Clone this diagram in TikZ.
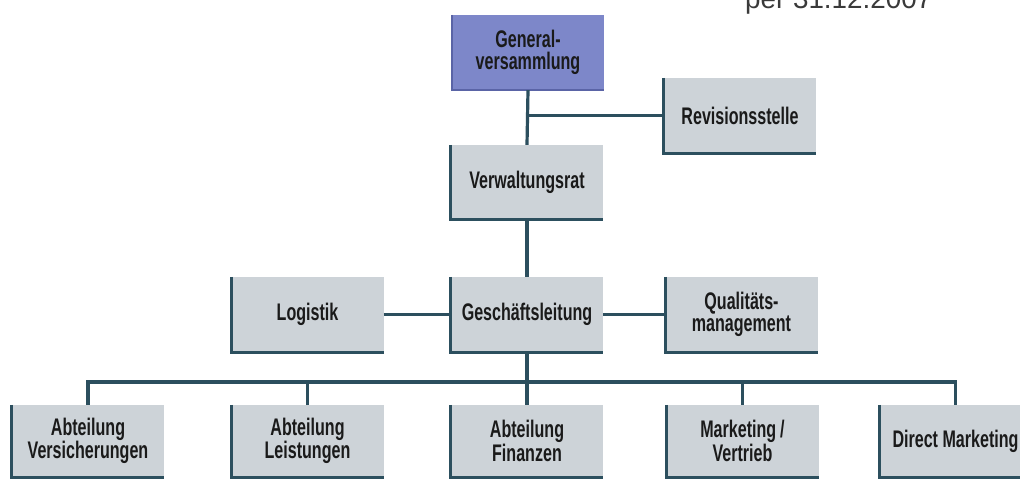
\documentclass[tikz,border=0pt]{standalone}
\usepackage{fontspec}
\setmainfont{Liberation Sans}
\newfontfamily\boxfont[FakeStretch=0.67]{Liberation Sans}
\definecolor{boxfill}{HTML}{CDD3D8}
\definecolor{gvfill}{HTML}{7D87C9}
\definecolor{gvedge}{HTML}{5A64A6}
\definecolor{linec}{HTML}{2C4F5E}
\definecolor{txt}{HTML}{1A1A1A}
\definecolor{titlec}{HTML}{3A3A3A}
\tikzset{
  unit/.style={rectangle, fill=boxfill, minimum width=152pt, minimum height=75pt,
    inner sep=0pt, align=center, text=txt,
    font=\boxfont\bfseries\fontsize{24}{22}\selectfont},
  topunit/.style={unit, fill=gvfill},
  edgeline/.style={draw=linec, line width=3pt},
  gvline/.style={draw=gvedge, line width=2.5pt},
  conn/.style={draw=linec, line width=3.2pt},
}
\begin{document}
\begin{tikzpicture}[x=1pt,y=-1pt]
\useasboundingbox (0,0) rectangle (1020,480);
\fill[white] (0,0) rectangle (1020,480);

\node[anchor=base west, text=titlec, inner sep=0pt, font=\fontsize{27.8}{30}\selectfont] (title) at (745,8) {per 31.12.2007};

\node[topunit] (gv) at (528,52.5) {General-\\versammlung};
\node[unit] (rev) at (740,115.5) {Revisionsstelle};
\node[unit, minimum height=74pt] (vr) at (527,182) {Verwaltungsrat};
\node[unit] (log) at (307.5,314.5) {Logistik};
\node[unit] (gl) at (527,314.5) {Geschäftsleitung};
\node[unit] (qm) at (741.5,314.5) {Qualitäts-\\management};

\node[unit, minimum height=72pt] (av) at (88,441) {Abteilung\\Versicherungen};
\node[unit, minimum height=72pt] (al) at (307.5,441) {Abteilung\\Leistungen};
\node[unit, minimum height=72pt] (af) at (527,441) {Abteilung\\Finanzen};
\node[unit, minimum height=72pt] (mv) at (742.5,441) {Marketing\,/\\Vertrieb};
\node[unit, minimum height=72pt] (dm) at (955.5,441) {Direct Marketing};

% box edges (left and bottom)
\draw[gvline] (gv.north west) -- (gv.south west) -- (gv.south east);
\foreach \n in {rev,vr,log,gl,qm,av,al,af,mv,dm}
  \draw[edgeline] (\n.north west) -- (\n.south west) -- (\n.south east);

% connectors
\coordinate (bus) at (527,382);
\draw[conn] (gv.south) -- (vr.north);
\draw[conn] (gv.south |- rev.west) -- (rev.west);
\draw[conn] (vr.south) -- (gl.north);
\draw[conn] (log.east) -- (gl.west);
\draw[conn] (gl.east) -- (qm.west);
\draw[conn] (gl.south) -- (af.north);
\draw[conn] (av.north) -- (av.north |- bus) -- (dm.north |- bus) -- (dm.north);
\draw[conn] (al.north) -- (al.north |- bus);
\draw[conn] (mv.north) -- (mv.north |- bus);
\end{tikzpicture}
\end{document}
